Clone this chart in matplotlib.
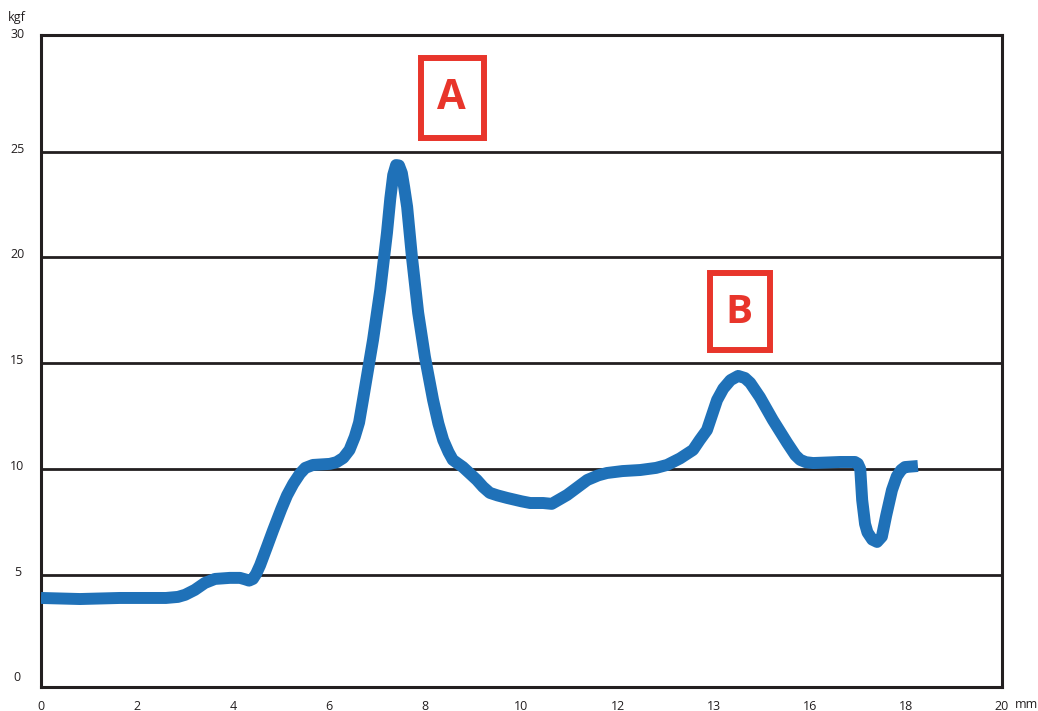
import matplotlib
matplotlib.use("Agg")
import matplotlib.pyplot as plt
from matplotlib.patches import Rectangle
import matplotlib.transforms as mtransforms

# ---- data ----
displacement_mm = [0.0, 0.81, 1.64, 2.27, 2.6, 2.85, 3.0, 3.2, 3.41, 3.62, 3.93, 4.14, 4.25,
                   4.33, 4.41, 4.48, 4.56, 4.7, 4.83, 5.0, 5.12, 5.25, 5.39, 5.5, 5.66,
                   6.01, 6.15, 6.29, 6.42, 6.53, 6.62, 6.70, 6.91, 7.06, 7.20, 7.27,
                   7.33, 7.39, 7.45, 7.51, 7.56, 7.62, 7.72, 7.85, 7.99, 8.16, 8.27, 8.37,
                   8.48, 8.57, 8.68, 8.78, 9.07, 9.2, 9.34, 9.50, 9.70, 10.0, 10.18,
                   10.45, 10.63, 10.95, 11.37, 11.6, 11.78, 12.1, 12.47, 12.8, 13.03,
                   13.3, 13.57, 13.71, 13.86, 14.07, 14.2, 14.35, 14.51, 14.65, 14.76,
                   14.96, 15.23, 15.53, 15.70, 15.80, 15.92, 16.07, 16.63, 16.94, 17.0,
                   17.05, 17.09, 17.15, 17.20, 17.30, 17.40, 17.50, 17.59, 17.71, 17.81,
                   17.90, 17.98, 18.25]
force_kgf = [3.90, 3.85, 3.90, 3.90, 3.90, 3.95, 4.05, 4.28, 4.61, 4.80, 4.85, 4.85, 4.78,
             4.72, 4.80, 5.05, 5.45, 6.30, 7.10, 8.10, 8.75, 9.30, 9.78, 10.05, 10.19,
             10.24, 10.32, 10.52, 10.90, 11.52, 12.20, 13.26, 16.10, 18.46, 21.16, 22.80,
             23.90, 24.37, 24.35, 23.99, 23.30, 22.39, 20.02, 17.38, 15.30, 13.26, 12.15, 11.37,
             10.80, 10.43, 10.25, 10.09, 9.48, 9.15, 8.87, 8.75, 8.63, 8.47, 8.39,
             8.39, 8.35, 8.77, 9.48, 9.70, 9.81, 9.90, 9.95, 10.05, 10.19,
             10.50, 10.90, 11.37, 11.84, 13.26, 13.80, 14.20, 14.40, 14.30, 14.07,
             13.40, 12.32, 11.23, 10.65, 10.43, 10.32, 10.28, 10.33, 10.33, 10.25,
             10.0, 8.53, 7.40, 7.00, 6.66, 6.55, 6.80, 7.80, 9.00, 9.65,
             9.95, 10.09, 10.14]

x_ticks = [0, 2, 4, 6, 8, 10, 12, 14, 16, 18, 20]
x_tick_labels = ["0", "2", "4", "6", "8", "10", "12", "13", "16", "18", "20"]
y_ticks = [0, 5, 10, 15, 20, 25, 30]
y_tick_labels = ["0", "5", "10", "15", "20", "25", "30"]
grid_levels = [5, 10, 15, 20, 25]

plt.rcParams["font.family"] = ["Open Sans", "DejaVu Sans"]

fig = plt.figure(figsize=(10.38, 7.11), dpi=100)
ax = fig.add_axes([41 / 1038, 1 - 687 / 711, (1002 - 41) / 1038, (687 - 35) / 711])
ax.set_xlim(0, 20)
ax.set_ylim(-0.31, 30.52)

dark = "#231f20"
for lvl in grid_levels:
    ax.axhline(lvl, color=dark, lw=2.0, zorder=1)

ax.plot(displacement_mm, force_kgf, color="#1f71b8", lw=8.6,
        solid_joinstyle="round", solid_capstyle="butt", zorder=3)

for s in ax.spines.values():
    s.set_color(dark)
    s.set_linewidth(2.2)

fs = 9
ax.set_xticks(x_ticks)
ax.set_xticklabels(x_tick_labels, fontsize=fs, color=dark)
ax.set_yticks(y_ticks)
ax.set_yticklabels(y_tick_labels, fontsize=fs, color=dark, ha="center")
ax.tick_params(axis="both", length=0)
ax.tick_params(axis="x", pad=9)
ax.tick_params(axis="y", pad=17)

# shift y labels slightly upward like the reference
offset = mtransforms.ScaledTranslation(0, 4 / 100, fig.dpi_scale_trans)
for lbl in ax.get_yticklabels():
    lbl.set_transform(lbl.get_transform() + offset)
top_off = mtransforms.ScaledTranslation(0, 9 / 100, fig.dpi_scale_trans)
ax.get_yticklabels()[-1].set_transform(ax.get_yticklabels()[-1].get_transform() + top_off)

fig.text(17 / 1038, 1 - 17 / 711, "kgf", fontsize=fs, ha="center", va="center", color=dark)
fig.text(1026 / 1038, 1 - 705 / 711, "mm", fontsize=fs, ha="center", va="center", color=dark)

red = "#e8352b"
ax.add_patch(Rectangle((7.91, 25.65), 9.22 - 7.91, 29.43 - 25.65, fill=False,
                       edgecolor=red, lw=4.3, clip_on=False, zorder=4))
ax.text(8.55, 27.5, "A", color=red, fontsize=30, fontweight="bold", ha="center", va="center",
        family=["Open Sans", "DejaVu Sans"])
ax.add_patch(Rectangle((13.92, 15.63), 15.17 - 13.92, 19.27 - 15.63, fill=False,
                       edgecolor=red, lw=4.3, clip_on=False, zorder=4))
ax.text(14.53, 17.4, "B", color=red, fontsize=29, fontweight="bold", ha="center", va="center",
        family=["Open Sans", "DejaVu Sans"])

fig.savefig("out.png", dpi=100)
